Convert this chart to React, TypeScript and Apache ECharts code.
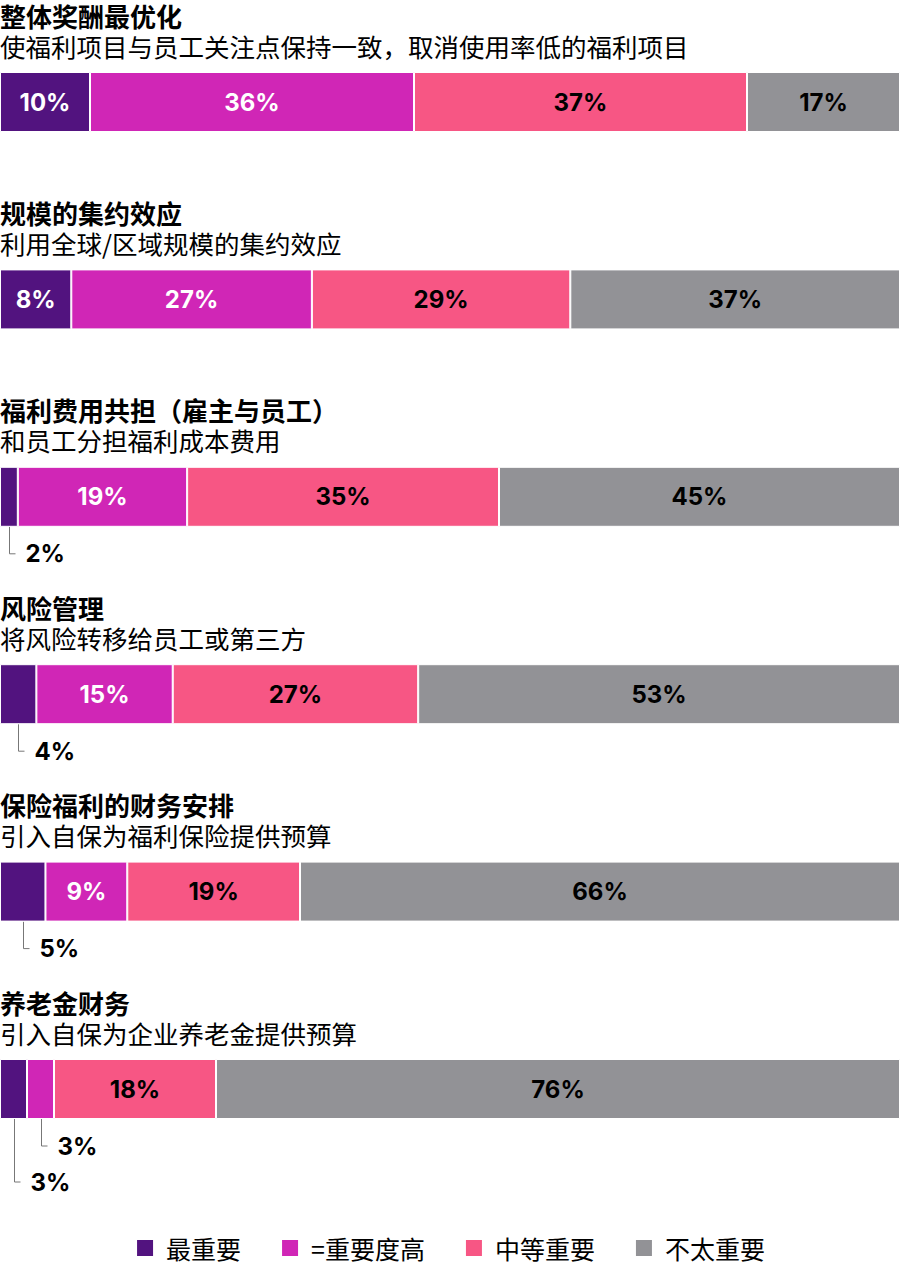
import React, { useEffect, useRef } from "react";
import * as echarts from "echarts";

const LEVELS = ["最重要", "=重要度高", "中等重要", "不太重要"];
const COLORS = ["#52137F", "#D026B6", "#F75684", "#929296"];
const LABEL_COLORS = ["#FFFFFF", "#FFFFFF", "#000000", "#000000"];

const TITLES = [
  "整体奖酬最优化",
  "规模的集约效应",
  "福利费用共担（雇主与员工）",
  "风险管理",
  "保险福利的财务安排",
  "养老金财务",
];
const SUBTITLES = [
  "使福利项目与员工关注点保持一致，取消使用率低的福利项目",
  "利用全球/区域规模的集约效应",
  "和员工分担福利成本费用",
  "将风险转移给员工或第三方",
  "引入自保为福利保险提供预算",
  "引入自保为企业养老金提供预算",
];

const MOST_IMPORTANT = [10, 8, 2, 4, 5, 3];
const HIGH_IMPORTANCE = [36, 27, 19, 15, 9, 3];
const MEDIUM_IMPORTANCE = [37, 29, 35, 27, 19, 18];
const LOW_IMPORTANCE = [17, 37, 45, 53, 66, 76];
const LEVEL_VALUES = [MOST_IMPORTANT, HIGH_IMPORTANCE, MEDIUM_IMPORTANCE, LOW_IMPORTANCE];

const CALLOUT_BELOW = 6;

const CJK = "'Noto Sans CJK SC', 'Noto Sans', sans-serif";
const NUM = "Inter, 'Noto Sans', sans-serif";

const FIRST_TOP = 72;
const STEP = 197.4;
const BAR_H = 60;

export default function App() {
  const ref = useRef<HTMLDivElement>(null);

  useEffect(() => {
    if (!ref.current) return;
    const chart = echarts.init(ref.current, undefined, { renderer: "svg" });
    const rows = TITLES.length;
    const grid: any[] = [];
    const xAxis: any[] = [];
    const yAxis: any[] = [];
    const series: any[] = [];
    const graphic: any[] = [];

    for (let i = 0; i < rows; i++) {
      const top = FIRST_TOP + i * STEP;
      const vals = LEVEL_VALUES.map((arr) => arr[i]);
      const total = vals.reduce((a, b) => a + b, 0);
      grid.push({ left: 0, right: 0, top, height: BAR_H, containLabel: false });
      xAxis.push({ type: "value", gridIndex: i, min: 0, max: total, show: false });
      yAxis.push({ type: "category", gridIndex: i, data: ["r"], show: false });

      graphic.push({
        type: "text",
        x: 0,
        y: top - 57,
        style: {
          text: TITLES[i],
          fontSize: 26,
          lineHeight: 26,
          fontWeight: "bold",
          fontFamily: CJK,
          fill: "#000",
          verticalAlign: "middle",
        },
      });
      graphic.push({
        type: "text",
        x: 0,
        y: top - 27,
        style: {
          text: SUBTITLES[i],
          fontSize: 25.5,
          lineHeight: 26,
          fontWeight: "normal",
          fontFamily: CJK,
          fill: "#000",
          verticalAlign: "middle",
        },
      });

      LEVELS.forEach((name, j) => {
        const v = vals[j];
        series.push({
          type: "bar",
          name,
          stack: "row" + i,
          xAxisIndex: i,
          yAxisIndex: i,
          barWidth: "100%",
          data: [v],
          itemStyle: { color: COLORS[j], borderColor: "#fff", borderWidth: 1 },
          label: {
            show: v >= CALLOUT_BELOW,
            position: "inside",
            formatter: "{c}%",
            color: LABEL_COLORS[j],
            fontFamily: NUM,
            fontWeight: 700,
            fontSize: 24,
          },
          emphasis: { disabled: true },
          silent: true,
        });
      });

      // callouts for narrow segments
      const callouts: any[] = [];
      let cum = 0;
      const small: number[] = [];
      vals.forEach((v, j) => {
        if (v < CALLOUT_BELOW) small.push(j);
      });
      vals.forEach((v, j) => {
        if (v < CALLOUT_BELOW) {
          const depth = small.filter((k) => k > j).length;
          callouts.push([cum + v / 2, 0, v, depth]);
        }
        cum += v;
      });
      if (callouts.length) {
        series.push({
          type: "custom",
          xAxisIndex: i,
          yAxisIndex: i,
          clip: false,
          silent: true,
          data: callouts,
          renderItem: (params: any, api: any) => {
            const p = api.coord([api.value(0), api.value(1)]);
            const band = api.size([0, 1])[1];
            const bottom = p[1] + band / 2;
            const yEnd = bottom + 27 + 36 * api.value(3);
            const x = Math.round(p[0]) + 0.5;
            return {
              type: "group",
              children: [
                {
                  type: "polyline",
                  shape: { points: [[x, bottom], [x, yEnd], [x + 6, yEnd]] },
                  style: { stroke: "#777", lineWidth: 1, fill: null },
                },
                {
                  type: "text",
                  x: x + 16,
                  y: yEnd,
                  style: {
                    text: api.value(2) + "%",
                    fill: "#000",
                    fontFamily: NUM,
                    fontWeight: 700,
                    fontSize: 24,
                    lineHeight: 24,
                    verticalAlign: "middle",
                    align: "left",
                  },
                },
              ],
            };
          },
        });
      }
    }

    chart.setOption({
      animation: false,
      backgroundColor: "#fff",
      grid,
      xAxis,
      yAxis,
      series,
      graphic,
      legend: {
        data: LEVELS,
        left: "center",
        top: 1235,
        padding: 0,
        icon: "rect",
        itemWidth: 18,
        itemHeight: 18,
        itemGap: 39,
        selectedMode: false,
        textStyle: {
          fontFamily: CJK,
          fontSize: 25,
          lineHeight: 26,
          color: "#000",
          padding: [0, 0, 0, 7],
        },
      },
    });
    return () => chart.dispose();
  }, []);

  return (
    <div
      ref={ref}
      style={{ position: "absolute", left: 0, top: 0, width: 900, height: 1262 }}
    />
  );
}
